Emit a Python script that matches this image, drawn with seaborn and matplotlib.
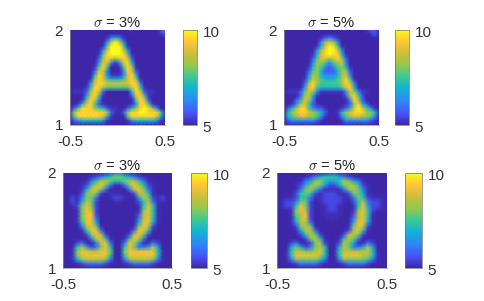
import numpy as np
import matplotlib
matplotlib.use("Agg")
import matplotlib.pyplot as plt
from matplotlib.colors import LinearSegmentedColormap
from matplotlib.transforms import ScaledTranslation
import seaborn as sns

# values, one digit per grid node, see the level lists
levels_a = [5.0, 5.2, 5.7, 6.3, 7.0, 7.6, 8.2, 8.9, 9.5, 10.0]
levels_o = [5.0, 5.12, 5.45, 6.0, 6.7, 7.3, 7.9, 8.5, 9.1, 10.0]
A_3 = [
    "000000000000000100000023",
    "000000000000000000000012",
    "000000000134310000000000",
    "000000000379730000000000",
    "000000001599951000000000",
    "000000003799973000000000",
    "000000015899985100000000",
    "000000026876787200000000",
    "000000037731378400000000",
    "000000158500158610000000",
    "000000277300038720000000",
    "000000487311137840000000",
    "000001687544457861000000",
    "000003788777777883000000",
    "000014886555555785100000",
    "011126872000000487211000",
    "000037851000000278510000",
    "000158730000000058720000",
    "001478521000000138851000",
    "025888654211002468986300",
    "168888888621026889988851",
    "158888887410005888888740",
    "023444443100001344444310",
    "000000000000000000000000",
]
A_5 = [
    "000000000000000000001220",
    "000000000000000000000120",
    "000000000123210000000000",
    "000000000367630000000000",
    "000000001479851000000000",
    "000000003689973000000000",
    "000000014789884100000000",
    "000000025776786200000000",
    "000000036653567300000000",
    "000000146532356410000000",
    "000000256422246620000000",
    "000000366433346730000000",
    "000001476544456851000000",
    "000002686555556873000000",
    "000003785444445784100000",
    "011125763111111376311000",
    "000026741000000268520000",
    "000247630000000038620000",
    "001367521000000126842000",
    "024688532210001247975310",
    "046788765420014678886641",
    "045677665310003567766530",
    "023333332100001333333210",
    "000000000000000000000000",
]
O_3 = [
    "000000000123321000000000",
    "000000123456654321000000",
    "000001357765567753100000",
    "000012578631136875210000",
    "000014786300003786310000",
    "000026762011100277510000",
    "002136630012210047621200",
    "002147620001100025731100",
    "001268620000000015851000",
    "000168720000000016851000",
    "000168820000000027851000",
    "000168830000000037851000",
    "000158840000000048841000",
    "000037861000000168720000",
    "000015883000000388510000",
    "000002687200002786200000",
    "000000378510015873000000",
    "000231037830038741132000",
    "000574236850058633474000",
    "001688778860068888885100",
    "001688888850058888885100",
    "001467777630036777763100",
    "000123333210012333321000",
    "000000000000000000000000",
]
O_5 = [
    "000000000112211000000000",
    "000000123455543210000000",
    "000001346754457643100000",
    "000012467642246775210000",
    "000013675311113676310000",
    "000025652122211266410000",
    "001125531122221136521110",
    "012236620122221025732210",
    "012258620012210015842210",
    "001168720012210016852110",
    "000167820011110027851000",
    "000157820001100037851000",
    "000147730000000048841000",
    "000026761000000168720000",
    "000014773000000278510000",
    "000002576200002776200000",
    "000000267510015763000000",
    "000231026720027641132000",
    "000464236750047633474000",
    "001577667850057777775100",
    "001588888750058888775100",
    "001366666530036666653100",
    "000123333210012333321000",
    "000000000000000000000000",
]
titles = ["3%", "5%", "3%", "5%"]
xtick_labels = ["-0.5", "0.5"]
ytick_labels = ["2", "1"]
cbar_labels = ["5", "10"]

W, H = 485, 301
# axes and colorbar boxes in pixels: left, right, top, bottom
panels = [
    (A_3, levels_a, titles[0], (70, 165, 30, 125), (183, 197)),
    (A_5, levels_a, titles[1], (284, 379, 30, 125), (395, 409)),
    (O_3, levels_o, titles[2], (63, 172, 173, 268), (191, 207)),
    (O_5, levels_o, titles[3], (277, 387, 173, 268), (405, 422)),
]

parula = LinearSegmentedColormap.from_list("parula", [
    (0.00, (0.2422, 0.1504, 0.6603)),
    (0.12, (0.2810, 0.3228, 0.9579)),
    (0.25, (0.1786, 0.5289, 0.9682)),
    (0.38, (0.0689, 0.6948, 0.8394)),
    (0.50, (0.2161, 0.7843, 0.5923)),
    (0.62, (0.5500, 0.7900, 0.3300)),
    (0.75, (0.8000, 0.7500, 0.2200)),
    (0.87, (0.9970, 0.7659, 0.2199)),
    (1.00, (0.9769, 0.9839, 0.0805)),
])

sns.set_style("white")
plt.rcParams["font.family"] = ["Liberation Sans", "DejaVu Sans"]
plt.rcParams["mathtext.fontset"] = "cm"
FS = 11
GREY = "#333333"


def box(fig, left, right, top, bottom):
    return fig.add_axes([left / W, 1 - bottom / H, (right - left) / W, (bottom - top) / H])


fig = plt.figure(figsize=(W / 100, H / 100), dpi=100, facecolor="white")
# y labels sit a little under the axis ends in the original
nudge = ScaledTranslation(0, -1.5 / 100, fig.dpi_scale_trans)

for rows, levels, label, (l, r, t, b), (cl, cr) in panels:
    grid = np.array([[levels[int(ch)] for ch in row] for row in rows])
    n_rows, n_cols = grid.shape

    ax = box(fig, l, r, t, b)
    cax = box(fig, cl, cr, t, b)
    sns.heatmap(grid, ax=ax, cbar_ax=cax, vmin=5, vmax=10, cmap=parula,
                shading="gouraud", square=False)

    ax.set_xlim(0, n_cols - 1)
    ax.set_ylim(n_rows - 1, 0)
    ax.set_xticks([0, n_cols - 1], xtick_labels, rotation=0)
    ax.set_yticks([0, n_rows - 1], ytick_labels, rotation=0)
    ax.tick_params(length=0, labelsize=FS, labelcolor=GREY)
    ax.tick_params(axis="x", pad=7)
    ax.tick_params(axis="y", pad=5)
    for side in ["left", "bottom"]:
        ax.spines[side].set_visible(True)
        ax.spines[side].set_color("#909090")
        ax.spines[side].set_linewidth(0.5)
    ax.set_title(r"$\sigma$ = " + label, fontsize=10.6, color="#262626", pad=2)

    cbar = ax.collections[0].colorbar
    cbar.set_ticks([5, 10], labels=cbar_labels)
    cbar.ax.tick_params(length=0, labelsize=FS, labelcolor=GREY, pad=4)
    cbar.outline.set_visible(True)
    cbar.outline.set_edgecolor("#707070")
    cbar.outline.set_linewidth(0.5)

    for tick in ax.get_yticklabels() + cbar.ax.get_yticklabels():
        tick.set_transform(tick.get_transform() + nudge)

fig.savefig("out.png", dpi=100)
